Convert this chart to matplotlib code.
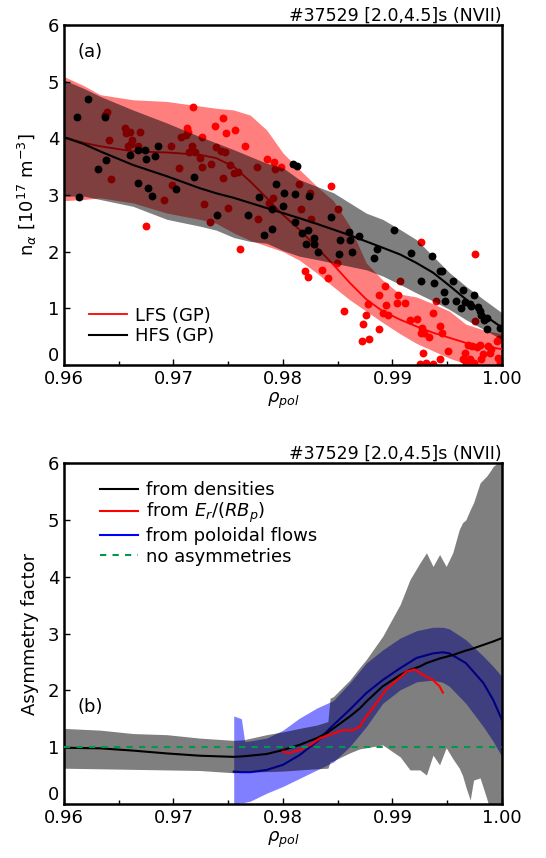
import numpy as np
import matplotlib
matplotlib.use("Agg")
import matplotlib.pyplot as plt


# -----------------------------
# Panel (a): densities
# -----------------------------
rho_a = [0.9600, 0.9618, 0.9633, 0.9663, 0.9694, 0.9724, 0.9739, 0.9755,
         0.9770, 0.9785, 0.9800, 0.9815, 0.9831, 0.9846, 0.9861, 0.9876,
         0.9891, 0.9907, 0.9922, 0.9937, 0.9952, 0.9967, 0.9983, 1.0000]

lfs_up = [5.09, 4.93, 4.77, 4.68, 4.65, 4.57, 4.53, 4.50,
          4.41, 4.15, 3.74, 3.45, 3.15, 2.90, 2.45, 1.80,
          1.50, 1.25, 1.20, 1.08, 0.95, 0.72, 0.62, 0.55]
lfs_lo = [2.90, 2.92, 2.95, 2.86, 2.68, 2.57, 2.50, 2.33,
          2.20, 2.10, 2.00, 1.85, 1.62, 1.38, 1.15, 0.95,
          0.75, 0.55, 0.38, 0.25, 0.12, 0.02, -0.05, -0.10]
lfs_fit = [4.02, 3.92, 3.86, 3.77, 3.75, 3.71, 3.65, 3.50,
           3.24, 2.95, 2.65, 2.39, 2.07, 1.77, 1.45, 1.16,
           0.95, 0.80, 0.68, 0.57, 0.48, 0.39, 0.33, 0.28]

hfs_up = [5.03, 4.88, 4.74, 4.50, 4.27, 4.03, 3.92, 3.80,
          3.68, 3.56, 3.48, 3.27, 3.15, 3.04, 2.86, 2.68,
          2.57, 2.39, 2.21, 1.92, 1.63, 1.39, 1.16, 0.92]
hfs_lo = [2.98, 2.98, 2.92, 2.80, 2.57, 2.45, 2.38, 2.25,
          2.18, 2.15, 2.02, 1.92, 1.86, 1.80, 1.74, 1.68,
          1.57, 1.42, 1.27, 1.13, 0.98, 0.80, 0.63, 0.45]
hfs_fit = [4.02, 3.90, 3.77, 3.53, 3.33, 3.12, 3.03, 2.95,
           2.86, 2.77, 2.68, 2.59, 2.49, 2.39, 2.29, 2.18,
           2.07, 1.95, 1.80, 1.63, 1.40, 1.16, 0.89, 0.66]

# measured points (LFS)
lfs_x = [0.9637, 0.9639, 0.9641, 0.9643, 0.9656, 0.9657, 0.9660, 0.9658,
         0.9662, 0.9661, 0.9668, 0.9669, 0.9675, 0.9691, 0.9698, 0.9699,
         0.9705, 0.9707, 0.9712, 0.9713, 0.9711, 0.9714, 0.9717, 0.9718,
         0.9720, 0.9724, 0.9726, 0.9726, 0.9728, 0.9733, 0.9734, 0.9738,
         0.9739, 0.9743, 0.9745, 0.9745, 0.9747, 0.9748, 0.9750, 0.9752,
         0.9755, 0.9756, 0.9759, 0.9761, 0.9765, 0.9776, 0.9777, 0.9785,
         0.9787, 0.9792, 0.9793, 0.9798, 0.9791, 0.9815, 0.9816, 0.9825,
         0.9826, 0.9828, 0.9820, 0.9823, 0.9836, 0.9841, 0.9844, 0.9850,
         0.9849, 0.9856, 0.9872, 0.9873, 0.9876, 0.9878, 0.9879, 0.9888,
         0.9888, 0.9891, 0.9893, 0.9894, 0.9896, 0.9905, 0.9904, 0.9911,
         0.9916, 0.9922, 0.9926, 0.9926, 0.9927, 0.9928, 0.9929, 0.9931,
         0.9933, 0.9937, 0.9940, 0.9943, 0.9943, 0.9945, 0.9951, 0.9964,
         0.9966, 0.9967, 0.9969, 0.9971, 0.9973, 0.9975, 0.9977, 0.9980,
         0.9981, 0.9983, 0.9987, 0.9989, 0.9990, 0.9995, 0.9996, 0.9997,
         0.9998, 0.9974, 0.9925, 0.9937, 0.9907, 0.9975]
lfs_y = [4.41, 4.47, 3.97, 3.29, 4.18, 4.09, 4.12, 3.87,
         3.97, 3.90, 3.87, 4.12, 2.46, 2.92, 3.86, 3.18,
         3.48, 4.02, 4.18, 4.11, 4.06, 3.76, 3.86, 4.55,
         3.75, 3.65, 4.02, 3.50, 2.84, 2.52, 3.55, 4.21,
         3.84, 3.77, 3.30, 4.36, 3.75, 4.10, 2.77, 3.53,
         3.39, 4.15, 3.40, 2.04, 3.86, 3.50, 2.57, 3.63,
         2.86, 3.58, 3.45, 3.50, 2.94, 3.20, 2.75, 3.04,
         2.57, 2.13, 1.66, 1.56, 1.68, 1.54, 3.15, 2.75,
         1.80, 0.95, 0.42, 0.73, 0.89, 1.07, 0.45, 0.63,
         1.24, 0.92, 1.39, 1.05, 0.89, 1.24, 1.10, 1.10,
         0.80, 0.82, 2.17, 0.57, 0.66, 0.22, 0.56, 0.04,
         0.49, 0.01, 1.13, 0.10, 0.69, 0.57, 0.25, 0.10,
         0.22, 0.04, 0.36, 0.10, 0.33, 0.77, 0.31, 0.36,
         0.10, 0.19, 0.33, 0.22, 0.28, 0.42, 0.13, 0.45,
         0.04, 0.04, 0.01, 0.92, 1.48, 1.95]

# measured points (HFS)
hfs_x = [0.9612, 0.9622, 0.9614, 0.9631, 0.9637, 0.9638, 0.9660, 0.9668,
         0.9668, 0.9674, 0.9675, 0.9677, 0.9680, 0.9683, 0.9686, 0.9702,
         0.9719, 0.9740, 0.9768, 0.9778, 0.9783, 0.9790, 0.9790, 0.9794,
         0.9800, 0.9801, 0.9809, 0.9813, 0.9811, 0.9811, 0.9817, 0.9821,
         0.9823, 0.9824, 0.9828, 0.9828, 0.9832, 0.9844, 0.9851, 0.9852,
         0.9860, 0.9861, 0.9863, 0.9869, 0.9883, 0.9886, 0.9901, 0.9917,
         0.9926, 0.9936, 0.9938, 0.9943, 0.9945, 0.9947, 0.9955, 0.9958,
         0.9964, 0.9966, 0.9971, 0.9974, 0.9972, 0.9978, 0.9980, 0.9981,
         0.9984, 0.9986, 0.9998, 0.9986, 0.9963, 0.9948]
hfs_y = [4.37, 4.69, 2.96, 3.46, 4.37, 3.61, 3.71, 3.79,
         3.22, 3.80, 3.63, 3.12, 2.99, 3.69, 3.87, 3.11,
         3.31, 2.65, 2.64, 2.96, 2.29, 2.40, 2.76, 3.19,
         2.80, 3.04, 3.55, 3.52, 3.01, 2.52, 2.33, 2.14,
         2.39, 2.98, 2.24, 2.14, 1.99, 2.62, 1.95, 2.20,
         2.35, 2.21, 1.99, 2.28, 1.88, 2.05, 2.39, 1.98,
         1.48, 1.92, 1.45, 1.66, 1.66, 1.29, 1.48, 1.13,
         1.33, 1.11, 1.07, 1.23, 1.04, 1.03, 0.95, 0.89,
         0.80, 0.63, 0.66, 0.83, 1.01, 1.13]


# -----------------------------
# Panel (b): asymmetry factor
# -----------------------------
rho_dens = [0.9600, 0.9633, 0.9663, 0.9694, 0.9724, 0.9755, 0.9764, 0.9785,
            0.9800, 0.9815, 0.9831, 0.9841, 0.9843, 0.9846, 0.9861, 0.9870,
            0.9876, 0.9891, 0.9907, 0.9916, 0.9925, 0.9931, 0.9937, 0.9943,
            0.9949, 0.9955, 0.9961, 0.9964, 0.9967, 0.9971, 0.9974, 0.9980,
            0.9986, 0.9989, 0.9992, 0.9996, 1.0000]
dens_up = [1.33, 1.30, 1.24, 1.22, 1.16, 1.12, 1.13, 1.22,
           1.27, 1.33, 1.39, 1.45, 1.86, 1.89, 2.18, 2.40,
           2.54, 2.95, 3.51, 3.95, 4.24, 4.42, 4.18, 4.39,
           4.18, 4.42, 4.83, 4.95, 5.00, 5.18, 5.30, 5.65,
           5.77, 5.85, 5.94, 6.00, 6.05]
dens_lo = [0.63, 0.62, 0.61, 0.60, 0.59, 0.55, 0.56, 0.57,
           0.58, 0.60, 0.62, 0.63, 0.74, 0.76, 0.90, 0.97,
           0.99, 1.04, 0.83, 0.60, 0.60, 0.51, 0.86, 0.69,
           0.99, 0.80, 0.63, 0.50, 0.30, 0.07, 0.42, 0.46,
           0.10, -0.10, -0.10, -0.10, -0.10]
dens_fit = [0.99, 0.98, 0.94, 0.89, 0.85, 0.83, 0.84, 0.88,
            0.95, 1.04, 1.16, 1.26, 1.29, 1.33, 1.54, 1.68,
            1.80, 2.07, 2.27, 2.36, 2.42, 2.48, 2.52, 2.56,
            2.59, 2.62, 2.66, 2.68, 2.70, 2.72, 2.74, 2.78,
            2.82, 2.84, 2.86, 2.89, 2.92]

rho_flow = [0.9755, 0.9762, 0.9765, 0.9770, 0.9785, 0.9800, 0.9815, 0.9831,
            0.9846, 0.9861, 0.9876, 0.9891, 0.9907, 0.9922, 0.9937, 0.9946,
            0.9952, 0.9967, 0.9983, 0.9992, 1.0000]
flow_up = [1.55, 1.50, 1.10, 1.11, 1.16, 1.30, 1.51, 1.69,
           1.82, 2.13, 2.48, 2.71, 2.92, 3.05, 3.11, 3.11,
           3.08, 2.89, 2.60, 2.42, 2.24]
flow_lo = [0.00, 0.02, 0.03, 0.05, 0.19, 0.31, 0.45, 0.60,
           0.74, 1.01, 1.36, 1.77, 2.01, 2.15, 2.18, 2.14,
           2.07, 1.77, 1.36, 1.10, 0.83]
flow_fit = [0.57, 0.56, 0.56, 0.56, 0.60, 0.69, 0.86, 1.10,
            1.39, 1.66, 1.95, 2.18, 2.39, 2.57, 2.65, 2.67,
            2.65, 2.48, 2.13, 1.83, 1.48]

rho_er = [0.9800, 0.9806, 0.9815, 0.9825, 0.9834, 0.9846, 0.9855, 0.9864,
          0.9870, 0.9876, 0.9885, 0.9894, 0.9904, 0.9913, 0.9920, 0.9928,
          0.9937, 0.9943, 0.9946]
er_fit = [0.92, 0.90, 0.95, 1.04, 1.16, 1.24, 1.30, 1.30,
          1.36, 1.54, 1.77, 2.01, 2.18, 2.33, 2.37, 2.27,
          2.18, 2.07, 1.96]

title_txt = "#37529 [2.0,4.5]s (NVII)"


# -----------------------------
# Figure
# -----------------------------
plt.rcParams["font.family"] = "DejaVu Sans"
plt.rcParams["mathtext.fontset"] = "dejavusans"

fig = plt.figure(figsize=(5.46, 8.58), dpi=100)
ax1 = fig.add_axes([0.1172, 0.5746, 0.8022, 0.3963])
ax2 = fig.add_axes([0.1172, 0.0629, 0.8022, 0.3975])

red = "#ff0000"
pink = (1.0, 0.0, 0.0, 0.5)
shade = (0.0, 0.0, 0.0, 0.5)

# (a) LFS below, HFS shading on top of it
ax1.fill_between(rho_a, lfs_lo, lfs_up, color=pink, linewidth=0, zorder=1)
ax1.scatter(lfs_x, lfs_y, s=32, c=red, linewidths=0, zorder=2)
ax1.plot(rho_a, lfs_fit, color=red, lw=1.3, zorder=3, label="LFS (GP)")
ax1.fill_between(rho_a, hfs_lo, hfs_up, color=shade, linewidth=0, zorder=4)
ax1.scatter(hfs_x, hfs_y, s=32, c="k", linewidths=0, zorder=5)
ax1.plot(rho_a, hfs_fit, color="k", lw=1.5, zorder=6, label="HFS (GP)")

ax1.set_ylabel(r"n$_\alpha$ [10$^{17}$ m$^{-3}$]", fontsize=13, labelpad=6)
ax1.text(0.06, 0.92, "(a)", transform=ax1.transAxes, fontsize=13,
         ha="center", va="center")
ax1.legend(loc="lower left", bbox_to_anchor=(0.02, 0.01), frameon=False,
           fontsize=13, handlelength=2.1, handletextpad=0.45, labelspacing=0.15)

# (b) flows band below, density band on top
ax2.fill_between(rho_flow, flow_lo, flow_up, color=(0.0, 0.0, 1.0, 0.5),
                 linewidth=0, zorder=1)
ax2.plot(rho_flow, flow_fit, color="#0000ff", lw=1.5, zorder=2)
ax2.fill_between(rho_dens, dens_lo, dens_up, color=shade, linewidth=0, zorder=3)
ax2.plot(rho_dens, dens_fit, color="k", lw=1.5, zorder=4)
ax2.plot(rho_er, er_fit, color=red, lw=1.5, zorder=5)
ax2.axhline(1.0, color="#00994c", lw=1.5, ls=(0, (3, 3)), zorder=6)

# legend handles
ax2.plot([], [], color="k", lw=1.5, label="from densities")
ax2.plot([], [], color=red, lw=1.5, label=r"from $E_r/(RB_p)$")
ax2.plot([], [], color="#0000ff", lw=1.5, label="from poloidal flows")
ax2.plot([], [], color="#00994c", lw=1.5, ls=(0, (3, 3)), label="no asymmetries")
ax2.legend(loc="upper left", bbox_to_anchor=(0.045, 0.995), frameon=False,
           fontsize=13, handlelength=2.1, handletextpad=0.45, labelspacing=0.12)

ax2.set_ylabel("Asymmetry factor", fontsize=13, labelpad=6)
ax2.text(0.06, 0.285, "(b)", transform=ax2.transAxes, fontsize=13,
         ha="center", va="center")

for ax in (ax1, ax2):
    ax.set_xlim(0.96, 1.00)
    ax.set_ylim(0, 6)
    ax.set_xticks([0.96, 0.97, 0.98, 0.99, 1.00])
    ax.set_xticklabels(["0.96", "0.97", "0.98", "0.99", "1.00"])
    ax.set_xticks(np.arange(0.965, 1.0, 0.01), minor=True)
    ax.set_yticks(range(7))
    ax.tick_params(which="both", direction="in", top=False, right=False,
                   labelsize=13, width=1)
    ax.tick_params(which="major", length=4)
    ax.tick_params(which="minor", length=3)
    ax.get_yticklabels()[0].set_va("bottom")
    for s in ax.spines.values():
        s.set_linewidth(1.8)
    ax.set_xlabel(r"$\rho_{pol}$", fontsize=13, labelpad=2)
    ax.set_title(title_txt, loc="right", fontsize=12.5, pad=3)

fig.savefig("out.png", dpi=100)
